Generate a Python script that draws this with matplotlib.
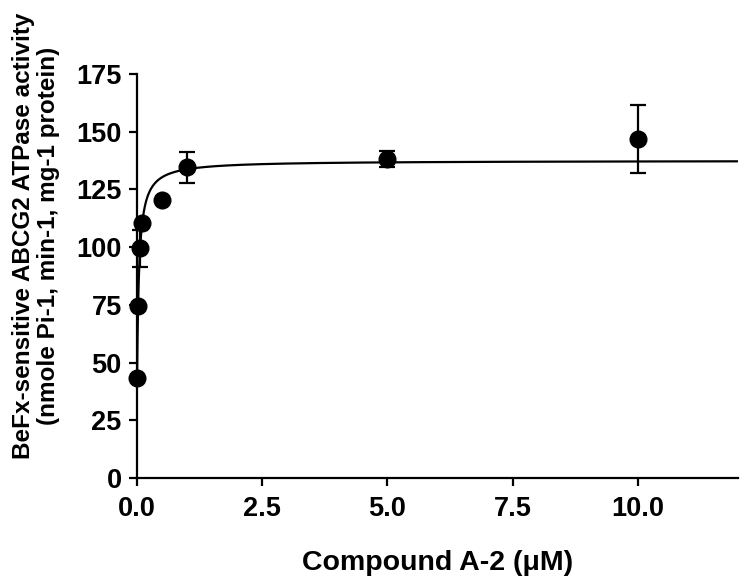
import numpy as np
import matplotlib
matplotlib.use("Agg")
import matplotlib.pyplot as plt

# Data
conc = [0.001, 0.01, 0.05, 0.1, 0.5, 1.0, 5.0, 10.0]
activity = [43.5, 74.5, 99.5, 110.5, 120.5, 134.5, 138.3, 146.8]
err = [0, 0, 8.0, 0, 0, 6.8, 3.5, 14.8]

# Fitted hyperbola parameters (estimated from the curve)
fit_bottom = 40.0
fit_span = 97.5
fit_km = 0.04

xticks = [0.0, 2.5, 5.0, 7.5, 10.0]
yticks = [0, 25, 50, 75, 100, 125, 150, 175]

plt.rcParams['font.family'] = ['Liberation Sans', 'DejaVu Sans']
plt.rcParams['font.weight'] = 'bold'

fig = plt.figure(figsize=(7.5, 5.81), dpi=100)
ax = fig.add_axes([137/750, 1-478/581, 601/750, 404/581])

xf = np.concatenate([np.linspace(0, 0.2, 500), np.linspace(0.2, 12, 2000)])
yf = fit_bottom + fit_span * xf / (fit_km + xf)
ax.plot(xf, yf, color='black', lw=1.6, zorder=2)

ax.errorbar(conc, activity, yerr=np.array(err), fmt='none', ecolor='black',
            elinewidth=1.6, capsize=6, capthick=1.6, zorder=3, clip_on=False)
ax.plot(conc, activity, 'o', color='black', markersize=12, zorder=4, clip_on=False)

ax.set_xlim(0, 12)
ax.set_ylim(0, 175)
ax.set_xticks(xticks)
ax.set_xticklabels([f"{t:.1f}" for t in xticks])
ax.set_yticks(yticks)
ax.spines['top'].set_visible(False)
ax.spines['right'].set_visible(False)
for s in ['left', 'bottom']:
    ax.spines[s].set_linewidth(1.6)
ax.tick_params(axis='both', direction='out', length=6, width=1.6, labelsize=19.5)
ax.tick_params(axis='y', pad=5)
ax.tick_params(axis='x', pad=7)
for lbl in ax.get_xticklabels() + ax.get_yticklabels():
    lbl.set_fontweight('bold')

ax.set_xlabel("Compound A-2 (\u03bcM)", fontsize=20.5, fontweight='bold', labelpad=20)
ax.set_ylabel("BeFx-sensitive ABCG2 ATPase activity\n(nmole Pi-1, min-1, mg-1 protein)",
              fontsize=17.5, fontweight='bold', linespacing=1.12)
ax.yaxis.set_label_coords(-0.128, 0.60)

fig.savefig("out.png", dpi=100)
